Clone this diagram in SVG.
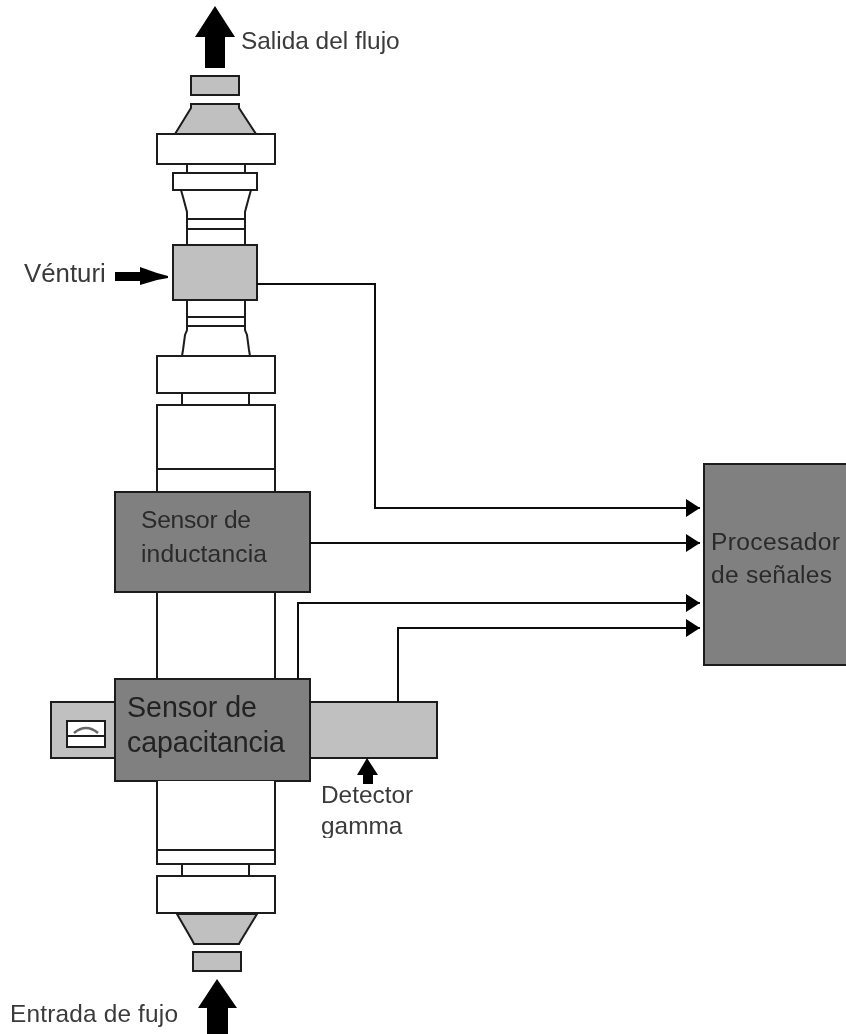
<svg xmlns="http://www.w3.org/2000/svg" width="846" height="1034" viewBox="0 0 846 1034">
<style>
.l{fill:none;stroke:#1a1a1a;stroke-width:2}
.w{fill:#fff;stroke:#1a1a1a;stroke-width:2}
.g{fill:#c0c0c0;stroke:#1a1a1a;stroke-width:2}
.d{fill:#808080;stroke:#1a1a1a;stroke-width:2}
.c{fill:none;stroke:#111;stroke-width:2}
.a{fill:#000}
text{font-family:"Liberation Sans",Arial,sans-serif}
.t{font-size:24.4px;fill:#3a3a3a}
.s{font-size:24.6px;fill:#2a2a2a}
.b{font-size:28.6px;fill:#222}
</style>
<defs>
<filter id="soft" x="0" y="0" width="100%" height="100%"><feGaussianBlur stdDeviation="0.6"/></filter>
<clipPath id="cut"><rect x="310" y="810" width="100" height="28"/></clipPath>
<marker id="ah" markerUnits="userSpaceOnUse" markerWidth="15" markerHeight="20" refX="14" refY="10" orient="auto"><path d="M0 1L14 10L0 19Z" fill="#000"/></marker>
</defs>
<rect width="846" height="1034" fill="#fff"/>
<g filter="url(#soft)">
<g id="column-top">
<path class="a" d="M215 6L235 37H225V68H205V37H195Z"/>
<rect class="g" x="191" y="76" width="48" height="19"/>
<path class="g" d="M191 104H239V108L256 134H175L191 108Z"/>
<path class="l" d="M187 164V173M245 164V173"/>
<rect class="w" x="157" y="134" width="118" height="30"/>
<rect class="w" x="173" y="173" width="84" height="17"/>
<path class="l" d="M181 190L183 197L187 212V245M251 190L249 197L245 212V245M187 219H245M187 229H245"/>
</g>
<g id="venturi">
<rect class="g" x="173" y="245" width="84" height="55"/>
<path class="a" d="M115 272H140V267L157 273L168 276V278L157 280L140 285V281H115Z"/>
<text class="t" x="24" y="282" font-size="25.5" style="font-size:25.8px">Vénturi</text>
</g>
<g id="column-middle">
<path class="l" d="M187 300V330L185 335L183 350L182 356M245 300V330L247 335L249 350L250 356M187 317H245M187 326H245M182 393V405M249 393V405"/>
<rect class="w" x="157" y="356" width="118" height="37"/>
<path class="w" d="M157 405H275V492H157Z"/>
<path class="l" d="M157 469H275M157 592V679M275 592V679"/>
</g>
<g id="sensor-inductancia">
<rect class="d" x="115" y="492" width="195" height="100"/>
<text class="s" x="141" y="528" textLength="110">Sensor de</text>
<text class="s" x="141" y="562" textLength="126">inductancia</text>
</g>
<g id="gauge">
<rect class="g" x="51" y="702" width="64" height="56"/>
<rect class="w" x="67" y="721" width="38" height="26"/>
<path class="l" d="M67 736H105"/>
<path d="M74 733Q86 723 98 733" fill="none" stroke="#666" stroke-width="2.5"/>
</g>
<g id="detector-gamma">
<rect class="g" x="310" y="702" width="127" height="56"/>
<path class="a" d="M367 758L378 775H373V784H363V775H357Z"/>
<text class="t" x="321" y="803">Detector</text>
<text class="t" x="321" y="834" clip-path="url(#cut)">gamma</text>
</g>
<g id="sensor-capacitancia">
<rect class="d" x="115" y="679" width="195" height="102"/>
<text class="b" x="127" y="717" textLength="130">Sensor de</text>
<text class="b" x="127" y="752" textLength="158">capacitancia</text>
</g>
<g id="column-bottom">
<path class="w" d="M157 781V864H275V781"/>
<path class="l" d="M157 850H275M182 864V876M249 864V876"/>
<rect class="w" x="157" y="876" width="118" height="37"/>
<path class="g" d="M177 914H257L240 942L239 944H194L192 940Z"/>
<rect class="g" x="193" y="952" width="48" height="19"/>
<path class="a" d="M217 979L237 1008H228V1034H207V1008H198Z"/>
<text class="t" x="10" y="1022" textLength="168">Entrada de fujo</text>
</g>
<g id="salida-label"><text class="t" x="241" y="49">Salida del flujo</text></g>
<g id="procesador">
<rect class="d" x="704" y="464" width="144" height="201"/>
<text class="s" x="711" y="550" textLength="129">Procesador</text>
<text class="s" x="711" y="583" textLength="121">de señales</text>
</g>
<g id="connectors">
<path class="c" marker-end="url(#ah)" d="M257 284H375V508H700"/>
<path class="c" marker-end="url(#ah)" d="M310 543H700"/>
<path class="c" marker-end="url(#ah)" d="M298 679V603H700"/>
<path class="c" marker-end="url(#ah)" d="M398 702V628H700"/>
</g>
</g>
</svg>
